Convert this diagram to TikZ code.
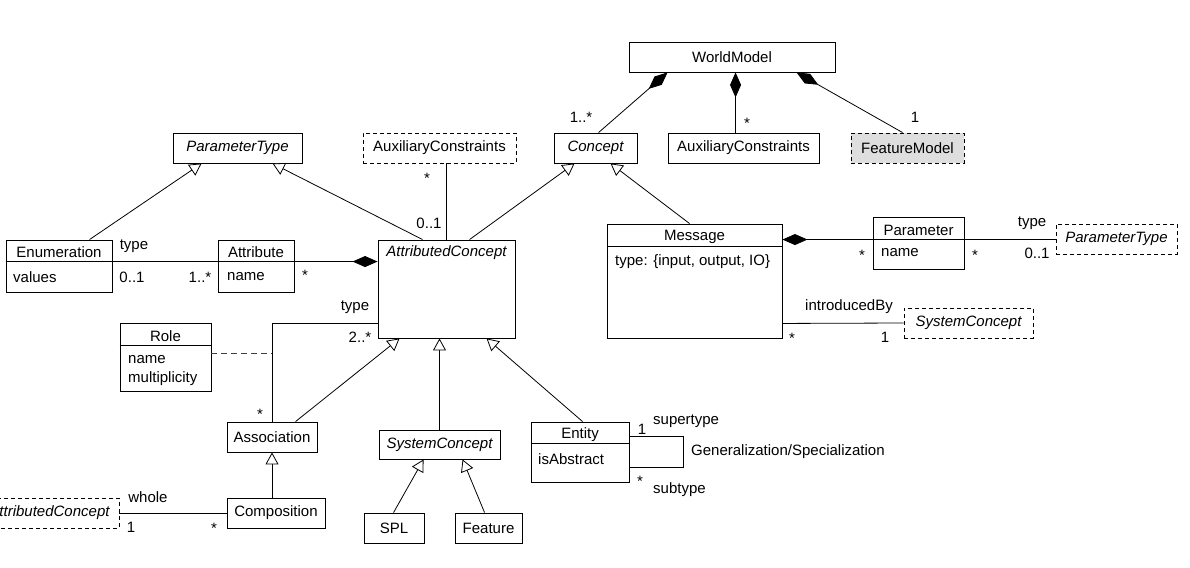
\documentclass[tikz,border=0pt]{standalone}
\usepackage{fontspec}
\setmainfont{Liberation Sans}
\usetikzlibrary{arrows.meta,calc}
\begin{document}
\begin{tikzpicture}[x=1pt,y=-1pt,
  txt/.style={font=\fontsize{15pt}{18pt}\selectfont, inner sep=0pt},
  box/.style={txt, draw, line width=0.9pt, rectangle, fill=white},
  dbox/.style={box, dash pattern=on 4pt off 3pt},
  conn/.style={line width=0.8pt},
  divider/.style={line width=0.9pt},
  comp/.style={conn, -{Diamond[length=25pt,width=11pt,fill=black]}},
  gen/.style={conn, -{Triangle[length=12pt,width=13pt,fill=white]}},
  rolelink/.style={conn, black!75, dash pattern=on 6pt off 4pt},
  ]
\fill[white] (0,0) rectangle (1190,567);
\useasboundingbox (0,0) rectangle (1190,567);

% ---------- boxes ----------
\node[box, minimum width=206pt, minimum height=30pt] (WM) at (732,57) {WorldModel};
\node[box, minimum width=83pt, minimum height=30pt] (Concept) at (595.5,148) {\itshape Concept};
\node[box, minimum width=151pt, minimum height=30pt] (AuxB) at (743.5,148) {AuxiliaryConstraints};
\node[dbox, fill=black!13, minimum width=113pt, minimum height=30pt] (FM) at (907.5,148) {FeatureModel};
\node[box, minimum width=129pt, minimum height=30pt] (PTt) at (237.5,148) {\itshape ParameterType};
\node[dbox, minimum width=153pt, minimum height=30pt] (AuxA) at (439.5,148) {AuxiliaryConstraints};

\node[box, minimum width=137pt, minimum height=98pt] (AC) at (446.5,289) {};
\node[txt] (ACt) at (446.5,253) {\itshape AttributedConcept};

\node[box, minimum width=106pt, minimum height=52pt] (Enum) at (59,266) {};
\draw[divider] ($(Enum.north west)+(0,22)$) -- ($(Enum.north east)+(0,22)$);
\node[txt] (Enumt) at (59,252) {Enumeration};
\node[txt, anchor=west] (Enumv) at (13,277) {values};

\node[box, minimum width=76pt, minimum height=52pt] (Attr) at (256,266) {};
\draw[divider] ($(Attr.north west)+(0,22)$) -- ($(Attr.north east)+(0,22)$);
\node[txt] (Attrt) at (256,252) {Attribute};
\node[txt, anchor=west] (Attrn) at (227,277) {name};

\node[box, minimum width=91pt, minimum height=68pt] (Role) at (165.5,357) {};
\draw[divider] ($(Role.north west)+(0,23)$) -- ($(Role.north east)+(0,23)$);
\node[txt] (Rolet) at (165.5,336) {Role};
\node[txt, anchor=west] (Rolen) at (128,360) {name};
\node[txt, anchor=west] (Rolem) at (128,379) {multiplicity};

\node[box, minimum width=90pt, minimum height=30pt] (Assoc) at (272,437) {Association};
\node[box, minimum width=121pt, minimum height=29pt] (SCb) at (439.5,444.5) {\itshape SystemConcept};

\node[box, minimum width=98pt, minimum height=60pt] (Ent) at (580,452) {};
\draw[divider] ($(Ent.north west)+(0,22)$) -- ($(Ent.north east)+(0,22)$);
\node[txt] (Entt) at (580,435) {Entity};
\node[txt, anchor=west] (Enta) at (538,459) {isAbstract};

\node[box, minimum width=175pt, minimum height=114pt] (Msg) at (694.5,281) {};
\draw[divider] ($(Msg.north west)+(0,23)$) -- ($(Msg.north east)+(0,23)$);
\node[txt] (Msgt) at (694.5,237) {Message};
\node[txt, anchor=west] (Msga) at (615,262) {type: \{input, output, IO\}};

\node[box, minimum width=91pt, minimum height=52pt] (Par) at (918.5,243) {};
\draw[divider] ($(Par.north west)+(0,23)$) -- ($(Par.north east)+(0,23)$);
\node[txt] (Part) at (918.5,230) {Parameter};
\node[txt, anchor=west] (Parn) at (881,253) {name};

\node[dbox, minimum width=121pt, minimum height=30pt] (PTr) at (1116.5,239) {\itshape ParameterType};
\node[dbox, minimum width=129pt, minimum height=30pt] (SCr) at (968.5,323) {\itshape SystemConcept};

\node[box, minimum width=98pt, minimum height=30pt] (Comp) at (276,513) {Composition};
\node[box, minimum width=60pt, minimum height=30pt] (SPL) at (394,528) {SPL};
\node[box, minimum width=67pt, minimum height=30pt] (Feat) at (488.5,528) {Feature};
\node[dbox, minimum width=139pt, minimum height=30pt] (ACl) at (49.5,513) {\itshape AttributedConcept};

% ---------- connectors ----------
\draw[comp] ($(Concept.north west)+(45,0)$) -- ($(WM.south west)+(39,0)$);
\draw[comp] ($(AuxB.north west)+(68,0)$) -- ($(WM.south west)+(107,0)$);
\draw[comp] ($(FM.north west)+(52,0)$) -- ($(WM.south west)+(168,0)$);

\draw[gen] ($(AC.north west)+(92,0)$) -- ($(Concept.south west)+(21,0)$);
\draw[gen] ($(Msg.north west)+(83,0)$) -- ($(Concept.south west)+(57,0)$);

\draw[gen] ($(Enum.north west)+(84,0)$) -- ($(PTt.south west)+(29,0)$);
\draw[gen] ($(AC.north west)+(45,0)$) -- ($(PTt.south west)+(100,0)$);

\draw[conn] ($(AuxA.south west)+(84,0)$) -- ($(AC.north west)+(69,0)$);

\draw[conn] ($(Enum.north east)+(0,22)$) -- ($(Attr.north west)+(0,22)$);
\draw[comp] ($(Attr.north east)+(0,22)$) -- ($(AC.north west)+(0,22)$);

\draw[conn] (Assoc.north) |- ($(AC.south west)+(0,-15)$);
\coordinate (rolept) at ($(Role.north east)+(0,31)$);
\draw[rolelink] (rolept) -- (rolept -| Assoc.north);

\draw[gen] ($(Assoc.north west)+(69,0)$) -- ($(AC.south west)+(22,0)$);
\draw[gen] (SCb.north) -- (SCb.north |- AC.south);
\draw[gen] ($(Ent.north west)+(52,0)$) -- ($(AC.south west)+(109,0)$);

\draw[gen] (Assoc.south |- Comp.north) -- (Assoc.south);
\draw[conn] (ACl.east) -- (Comp.west);

\draw[gen] ($(SPL.north west)+(30,0)$) -- ($(SCb.south west)+(45,0)$);
\draw[gen] ($(Feat.north west)+(30,0)$) -- ($(SCb.south west)+(84,0)$);

\draw[comp] ($(Par.north west)+(0,23)$) -- ($(Msg.north east)+(0,16)$);
\draw[conn] ($(Par.north east)+(0,23)$) -- ($(PTr.north west)+(0,16)$);
\draw[conn] ($(Msg.south east)+(0,-15)$) -- (SCr.west);

\draw[conn] ($(Ent.north east)+(0,15)$) -- ++(54,0) -- ++(0,31) -- ($(Ent.north east)+(0,46)$);

% ---------- labels ----------
\node[txt] (l1) at (581,117) {1..*};
\node[txt] (l2) at (747,123) {*};
\node[txt] (l3) at (915,117) {1};
\node[txt] (l4) at (427,178) {*};
\node[txt] (l5) at (429,223) {0..1};
\node[txt] (l6) at (134,246) {type};
\node[txt] (l7) at (132,277) {0..1};
\node[txt] (l8) at (200,277) {1..*};
\node[txt] (l9) at (305,275) {*};
\node[txt] (l10) at (355,307) {type};
\node[txt] (l11) at (360,337) {2..*};
\node[txt] (l12) at (260,414) {*};
\node[txt] (l13) at (148,497) {whole};
\node[txt] (l14) at (131,527) {1};
\node[txt] (l15) at (214,528) {*};
\node[txt] (l16) at (862,255) {*};
\node[txt] (l17) at (975,255) {*};
\node[txt] (l18) at (1032,223) {type};
\node[txt] (l19) at (1037,253) {0..1};
\node[txt] (l20) at (849,307) {introducedBy};
\node[txt] (l21) at (792,338) {*};
\node[txt] (l22) at (885,337) {1};
\node[txt] (l23) at (642,429) {1};
\node[txt, anchor=west] (l24) at (653,421) {supertype};
\node[txt] (l25) at (640,481) {*};
\node[txt, anchor=west] (l26) at (653,490) {subtype};
\node[txt, anchor=west] (l27) at (691,452) {Generalization/Specialization};
\end{tikzpicture}
\end{document}
